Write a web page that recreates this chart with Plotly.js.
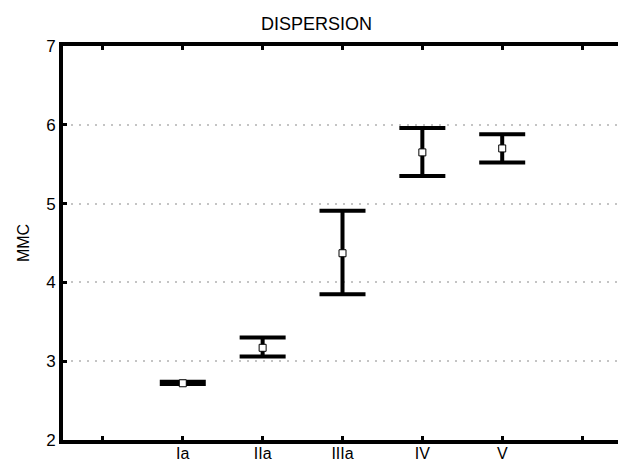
<!DOCTYPE html>
<html>
<head>
<meta charset="utf-8">
<script src="https://cdn.plot.ly/plotly-3.0.1.min.js"></script>
<style>html,body{margin:0;padding:0;background:#fff;}#chart{width:618px;height:465px;}</style>
</head>
<body>
<div id="chart"></div>
<script>
const categories = ['Ia', 'IIa', 'IIIa', 'IV', 'V'];
const means = [2.72, 3.17, 4.37, 5.65, 5.70];
const upper = [2.74, 3.30, 4.91, 5.96, 5.88];
const lower = [2.71, 3.06, 3.85, 5.35, 5.52];
const yTicks = [2, 3, 4, 5, 6, 7];

const xPos = categories.map((c, i) => i + 1);
const tickVals = [0].concat(xPos, [xPos.length + 1]);
const tickText = [''].concat(categories, ['']);

const trace = {
  type: 'scatter',
  mode: 'markers',
  x: xPos,
  y: means,
  marker: {symbol: 'square', size: 7, color: '#fff', line: {color: '#000', width: 1}},
  error_y: {
    type: 'data', symmetric: false,
    array: upper.map((u, i) => u - means[i]),
    arrayminus: lower.map((l, i) => means[i] - l),
    color: '#000', thickness: 4, width: 23
  },
  hoverinfo: 'skip'
};

const layout = {
  width: 618, height: 465,
  margin: {l: 63, r: 0, t: 46, b: 25},
  paper_bgcolor: '#fff', plot_bgcolor: '#fff',
  font: {family: 'Liberation Sans, Arial, sans-serif', color: '#000'},
  showlegend: false,
  title: {text: 'DISPERSION', x: 0.512, xref: 'container', y: 0.948, yref: 'container', yanchor: 'middle', font: {size: 18, color: '#000'}},
  xaxis: {
    range: [-0.5, 6.45], tickmode: 'array', tickvals: tickVals, ticktext: tickText,
    showgrid: false, zeroline: false,
    showline: true, linecolor: '#000', linewidth: 4, mirror: 'ticks',
    ticks: 'inside', ticklen: 4, tickwidth: 3, tickcolor: '#000',
    tickfont: {size: 16}, ticklabelstandoff: -4
  },
  yaxis: {
    range: [2, 7], tickmode: 'array', tickvals: yTicks,
    title: {text: 'MMC', font: {size: 16}, standoff: 14},
    showgrid: true, gridcolor: '#c4c4c4', griddash: '2px,6px', gridwidth: 2,
    zeroline: false,
    showline: true, linecolor: '#000', linewidth: 4,
    ticks: 'inside', ticklen: 4, tickwidth: 3, tickcolor: '#000',
    tickfont: {size: 17}
  }
};

Plotly.newPlot('chart', [trace], layout, {displayModeBar: false, staticPlot: true});
</script>
</body>
</html>
